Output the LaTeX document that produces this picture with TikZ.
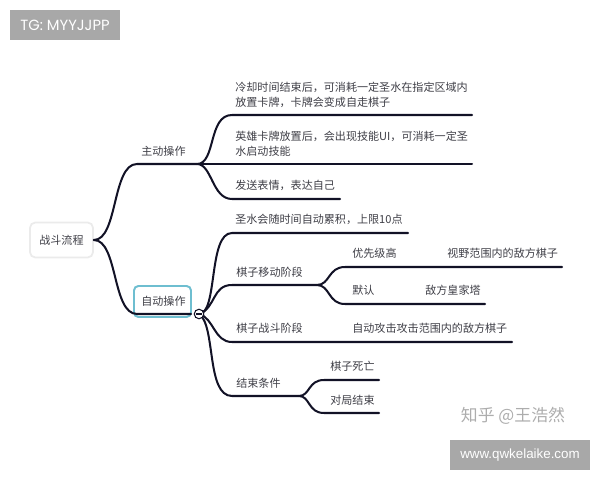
\documentclass[tikz,border=0pt]{standalone}
\usepackage{fontspec}
\setmainfont{Noto Sans CJK SC}
\newfontfamily\tagfont{Poppins}
\newfontfamily\sitefont{Liberation Sans}
\definecolor{inkdark}{RGB}{18, 18, 38}
\definecolor{textgray}{RGB}{62, 62, 70}
\definecolor{tagbg}{RGB}{168, 168, 168}
\definecolor{focusteal}{RGB}{110, 190, 208}
\usetikzlibrary{positioning}
\tikzset{
  limb/.style={draw=inkdark, line width=1.15pt, line cap=round},
  topic/.style={anchor=west, inner sep=0pt, text=textgray, align=left, font=\fontsize{6.3pt}{8.5pt}\selectfont},
  tagbox/.style={fill=tagbg, text=white, inner sep=0pt, minimum height=0.6cm}
}

\begin{document}
\begin{tikzpicture}[x=0.02cm, y=-0.02cm]
  \useasboundingbox (0,0) rectangle (600,480);

  % Root
  \node[draw=black!8, line width=1pt, fill=white, rounded corners=3pt, minimum width=1.26cm, minimum height=0.7cm, inner sep=0pt, text=textgray, font=\fontsize{6.3pt}{8pt}\selectfont] (root) at (61.5,240) {战斗流程};

  % Junctions
  \coordinate (activeend) at (197,164);
  \coordinate (autoknob) at (199,314);
  \coordinate (movejoin) at (317,285);
  \coordinate (endjoin) at (299,396);

  % Upper branch
  \node[topic] (active) at (141,151) {主动操作};
  \draw[limb] (root.east) .. controls (118,240) and (112,164) .. (137,164) -- (activeend);
  \node[topic] (cooldown) at (235,94.5) {冷却时间结束后，可消耗一定圣水在指定区域内\\放置卡牌，卡牌会变成自走棋子};
  \node[topic] (hero) at (235,143.5) {英雄卡牌放置后，会出现技能UI，可消耗一定圣\\水启动技能};
  \node[topic] (emote) at (235,185) {发送表情，表达自己};
  \coordinate (cooldownend) at (472,115);
  \coordinate (heroend) at (472,164);
  \coordinate (emoteend) at (340,199);
  \draw[limb] (activeend) .. controls (216,164) and (208,115) .. (232,115) -- (cooldownend);
  \draw[limb] (activeend) -- (heroend);
  \draw[limb] (activeend) .. controls (212,164) and (212,199) .. (232,199) -- (emoteend);

  % Lower branch
  \node[draw=focusteal, line width=1.1pt, rounded corners=2.5pt, fill=white, minimum width=1.14cm, minimum height=0.62cm, inner sep=0pt] (autobox) at (162.5,301.5) {};
  \node[topic] (auto) at (141,301) {自动操作};
  \draw[limb] (root.east) .. controls (118,240) and (112,314) .. (137,314) -- (191,314);
  \node[topic] (holy) at (235,219) {圣水会随时间自动累积，上限10点};
  \node[topic] (move) at (236,272) {棋子移动阶段};
  \node[topic] (fight) at (236,328) {棋子战斗阶段};
  \node[topic] (finish) at (236,383) {结束条件};
  \coordinate (holyend) at (408,233);
  \coordinate (fightend) at (512,342);
  \draw[limb] (autoknob) .. controls (218,314) and (208,233) .. (232,233) -- (holyend);
  \draw[limb] (autoknob) .. controls (216,308) and (212,285) .. (232,285) -- (movejoin);
  \draw[limb] (autoknob) .. controls (214,318) and (214,342) .. (232,342) -- (fightend);
  \draw[limb] (autoknob) .. controls (216,325) and (206,396) .. (232,396) -- (endjoin);
  \node[draw=inkdark, line width=0.6pt, fill=white, circle, minimum size=0.19cm, inner sep=0pt] (knob) at (autoknob) {};
  \draw[draw=inkdark, line width=0.7pt] ([xshift=-1.5pt]knob.center) -- ([xshift=1.5pt]knob.center);

  % Move phase
  \node[topic] (priority) at (352,253) {优先级高};
  \node[topic] (sight) at (447,253) {视野范围内的敌方棋子};
  \node[topic] (default) at (352,290) {默认};
  \node[topic] (tower) at (425,290) {敌方皇家塔};
  \coordinate (sightend) at (562,267);
  \coordinate (towerend) at (485,304);
  \draw[limb] (movejoin) .. controls (330,285) and (328,267) .. (345,267) -- (sightend);
  \draw[limb] (movejoin) .. controls (330,285) and (328,304) .. (345,304) -- (towerend);

  % Fight phase
  \node[topic] (attack) at (352,328) {自动攻击攻击范围内的敌方棋子};

  % End condition
  \node[topic] (dead) at (330,366) {棋子死亡};
  \node[topic] (over) at (330,400) {对局结束};
  \coordinate (deadend) at (379,380);
  \coordinate (overend) at (379,413);
  \draw[limb] (endjoin) .. controls (310,396) and (308,380) .. (324,380) -- (deadend);
  \draw[limb] (endjoin) .. controls (310,396) and (308,413) .. (324,413) -- (overend);

  % Watermarks
  \node[tagbox, minimum width=2.2cm, font=\tagfont\fontsize{8.4pt}{9pt}\selectfont] (tag) at (65,25) {TG: MYYJJPP};
  \node[tagbox, minimum width=2.8cm, font=\sitefont\fontsize{7.6pt}{9pt}\selectfont] (site) at (520,455) {www.qwkelaike.com};
  \node[text=black!32, inner sep=0pt, font=\fontsize{9.6pt}{10pt}\selectfont] (zhihu) at (513,416) {知乎 @王浩然};
\end{tikzpicture}
\end{document}
